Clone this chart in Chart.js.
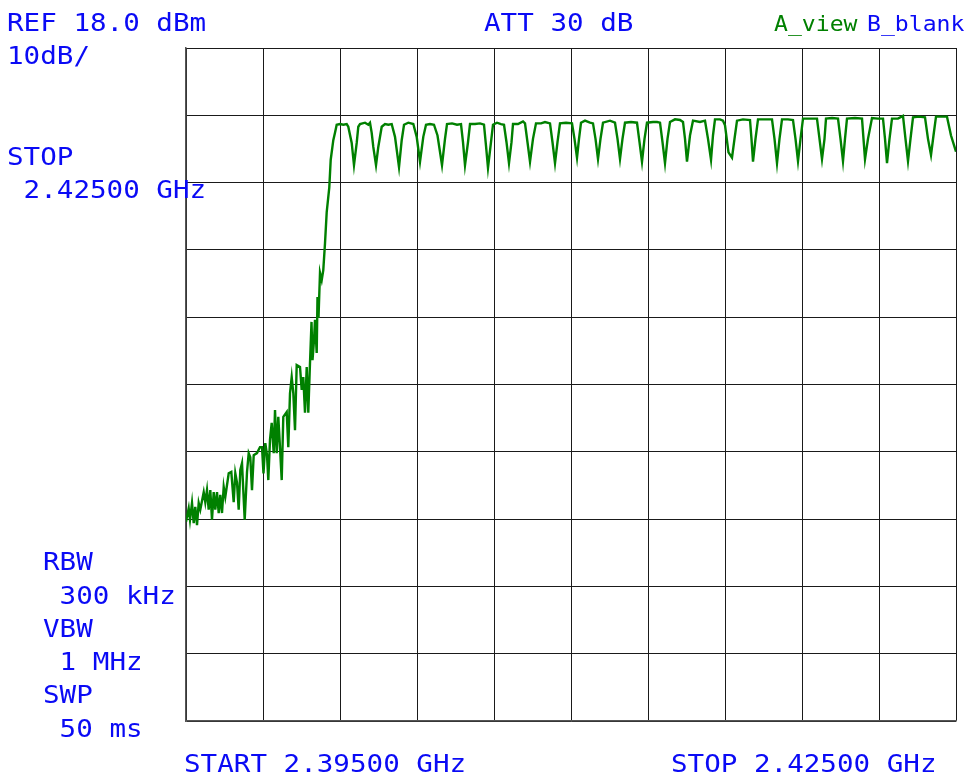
<!DOCTYPE html>
<html>
<head>
<meta charset="utf-8">
<script src="https://cdn.jsdelivr.net/npm/chart.js@4.4.1/dist/chart.umd.min.js"></script>
<style>
  html, body { margin: 0; padding: 0; background: #ffffff; }
  #wrap { width: 971px; height: 779px; }
</style>
</head>
<body>
<div id="wrap"><canvas id="spectrum" width="971" height="779"></canvas></div>
<script>
// ---- Trace A: sweep 2.395 - 2.425 GHz, frequency in MHz, level in dBm ----

// lower skirt and rising edge of the band
const skirtFreq = [
  2395.000, 2395.105, 2395.156, 2395.234, 2395.300, 2395.362, 2395.429, 2395.495,
  2395.557, 2395.690, 2395.752, 2395.818, 2395.884, 2395.947, 2396.013, 2396.079,
  2396.142, 2396.208, 2396.274, 2396.336, 2396.403, 2396.469, 2396.531, 2396.664,
  2396.765, 2396.858, 2396.921, 2396.987, 2397.053, 2397.116, 2397.182, 2397.287,
  2397.377, 2397.443, 2397.505, 2397.571, 2397.638, 2397.766, 2397.883, 2397.961,
  2398.019, 2398.090, 2398.156, 2398.207, 2398.273, 2398.339, 2398.417, 2398.468,
  2398.534, 2398.596, 2398.674, 2398.729, 2398.791, 2398.923, 2398.986, 2399.052,
  2399.118, 2399.181, 2399.247, 2399.313, 2399.442, 2399.508, 2399.570, 2399.636,
  2399.703, 2399.765, 2399.831, 2399.890, 2399.929, 2399.987, 2400.026, 2400.092,
  2400.123, 2400.162, 2400.221, 2400.287, 2400.349, 2400.416, 2400.482, 2400.583,
  2400.638, 2400.739, 2400.805
];
const skirtLevel = [
  -52.4, -50.4, -52.1, -49.6, -52.6, -50.2, -52.9, -49.6,
  -50.6, -48.0, -49.5, -47.7, -50.6, -47.7, -52.1, -48.0,
  -50.6, -48.0, -51.1, -48.4, -51.1, -47.2, -48.7, -45.2,
  -45.0, -49.5, -45.2, -46.6, -50.6, -44.7, -43.7, -52.1,
  -45.0, -42.2, -42.8, -47.7, -42.5, -42.2, -41.3, -41.3,
  -45.2, -40.7, -42.5, -46.2, -40.2, -37.7, -42.2, -35.8,
  -42.2, -36.8, -42.2, -46.2, -36.8, -36.1, -41.3, -33.3,
  -30.9, -33.3, -38.8, -29.1, -29.4, -32.8, -30.9, -36.2,
  -29.4, -36.2, -28.8, -22.7, -28.4, -25.4, -22.4, -27.3,
  -19.0, -22.1, -15.4, -16.5, -15.0, -11.0, -6.4, -2.7,
  1.4, 4.3, 5.4
];

// in-band plateau with its periodic notches
const bandFreq = [
  2400.871, 2401.000, 2401.129, 2401.261, 2401.323, 2401.456, 2401.545, 2401.651,
  2401.713, 2401.779, 2401.974, 2402.103, 2402.169, 2402.235, 2402.297, 2402.403,
  2402.492, 2402.625, 2402.753, 2402.882, 2403.014, 2403.143, 2403.299, 2403.404,
  2403.494, 2403.661, 2403.856, 2403.988, 2404.117, 2404.245, 2404.351, 2404.506,
  2404.662, 2404.799, 2404.974, 2405.091, 2405.169, 2405.364, 2405.558, 2405.714,
  2405.792, 2405.870, 2405.987, 2406.065, 2406.260, 2406.455, 2406.610, 2406.688,
  2406.766, 2406.883, 2406.961, 2407.117, 2407.273, 2407.390, 2407.487, 2407.584,
  2407.682, 2407.740, 2407.935, 2408.130, 2408.208, 2408.305, 2408.403, 2408.519,
  2408.636, 2408.831, 2408.987, 2409.182, 2409.279, 2409.377, 2409.474, 2409.571,
  2409.805, 2410.039, 2410.136, 2410.234, 2410.312, 2410.390, 2410.545, 2410.740,
  2410.857, 2410.955, 2411.052, 2411.149, 2411.247, 2411.519, 2411.714, 2411.812,
  2411.909, 2412.006, 2412.104, 2412.338, 2412.571, 2412.669, 2412.766, 2412.864,
  2412.961, 2413.195, 2413.351, 2413.468, 2413.565, 2413.662, 2413.760, 2413.857,
  2414.052, 2414.247, 2414.364, 2414.442, 2414.519, 2414.636, 2414.753, 2415.026,
  2415.221, 2415.338, 2415.455, 2415.532, 2415.610, 2415.805, 2415.922, 2416.000,
  2416.136, 2416.273, 2416.370, 2416.468, 2416.701, 2416.974, 2417.032, 2417.091,
  2417.188, 2417.286, 2417.558, 2417.831, 2417.929, 2418.026, 2418.123, 2418.221,
  2418.455, 2418.649, 2418.747, 2418.844, 2418.942, 2419.039, 2419.312, 2419.584,
  2419.682, 2419.779, 2419.877, 2419.935, 2420.169, 2420.403, 2420.500, 2420.597,
  2420.675, 2420.753, 2421.065, 2421.338, 2421.396, 2421.455, 2421.571, 2421.727,
  2421.961, 2422.156, 2422.234, 2422.312, 2422.409, 2422.506, 2422.740, 2422.935,
  2423.032, 2423.130, 2423.227, 2423.325, 2423.558, 2423.792, 2423.909, 2424.026,
  2424.123, 2424.221, 2424.455, 2424.649, 2424.805, 2425.000
];
const bandLevel = [
  6.6, 6.7, 6.6, 6.7, 6.3, 3.9, 0.6, 3.9,
  6.3, 6.7, 6.9, 6.6, 6.9, 5.4, 3.3, 0.6,
  3.3, 6.3, 6.7, 6.6, 6.7, 4.8, 0.3, 4.3,
  6.6, 6.9, 6.7, 4.8, 1.1, 4.8, 6.6, 6.7,
  6.6, 5.0, 0.6, 4.5, 6.7, 6.8, 6.6, 6.7,
  4.0, 0.6, 4.0, 6.7, 6.7, 6.8, 6.6, 3.5,
  0.2, 4.0, 6.6, 6.9, 6.7, 6.6, 4.0, 0.9,
  4.0, 6.7, 6.7, 7.1, 6.8, 4.0, 1.1, 4.5,
  6.8, 6.8, 7.0, 6.8, 4.0, 0.9, 4.0, 6.8,
  6.9, 6.8, 4.5, 1.7, 4.5, 6.9, 7.2, 6.9,
  6.8, 4.5, 1.5, 4.5, 6.9, 7.2, 6.9, 4.5,
  1.5, 4.5, 6.9, 7.0, 6.9, 4.0, 1.1, 4.5,
  6.9, 7.0, 7.0, 6.9, 4.0, 0.9, 4.5, 7.0,
  7.4, 7.3, 7.0, 4.5, 1.1, 5.0, 7.2, 7.0,
  7.2, 4.5, 1.4, 5.0, 7.4, 7.4, 7.2, 6.5,
  2.5, 1.7, 4.5, 7.2, 7.4, 7.3, 4.5, 1.1,
  4.5, 7.4, 7.4, 7.4, 4.5, 0.9, 4.5, 7.4,
  7.4, 7.3, 4.5, 1.2, 4.5, 7.5, 7.5, 7.5,
  4.5, 1.5, 4.5, 7.5, 7.6, 7.5, 4.5, 1.2,
  4.5, 7.5, 7.6, 7.5, 4.5, 1.5, 4.5, 7.6,
  7.5, 7.5, 4.5, 0.9, 4.5, 7.5, 7.5, 7.9,
  4.5, 1.2, 4.5, 7.7, 7.8, 7.7, 4.5, 2.1,
  5.0, 7.8, 7.8, 7.8, 5.0, 2.6
];

// graticule: 10 divisions each way
const freqDivisions = [2395, 2398, 2401, 2404, 2407, 2410, 2413, 2416, 2419, 2422, 2425];
const levelDivisions = [-82, -72, -62, -52, -42, -32, -22, -12, -2, 8, 18];

// analyzer annotation texts
const headerTexts = ['REF 18.0 dBm', '10dB/', 'ATT 30 dB'];
const traceTexts = ['A_view', 'B_blank'];
const markerTexts = ['STOP', ' 2.42500 GHz'];
const setupTexts = ['RBW', ' 300 kHz', 'VBW', ' 1 MHz', 'SWP', ' 50 ms'];
const spanTexts = ['START 2.39500 GHz', 'STOP 2.42500 GHz'];

// ---- drawing ----
const traceFreq = skirtFreq.concat(bandFreq);
const traceLevel = skirtLevel.concat(bandLevel);
const tracePoints = traceFreq.map((f, i) => ({ x: f, y: traceLevel[i] }));

const BLUE = '#0a0af5';
const GREEN = '#008000';
const FONT = '"DejaVu Sans Mono", "Liberation Mono", monospace';

function putText(ctx, str, x, y, size, stretch, color) {
  ctx.save();
  ctx.font = size + 'px ' + FONT;
  ctx.fillStyle = color;
  ctx.textBaseline = 'alphabetic';
  ctx.textAlign = 'left';
  ctx.translate(x, y);
  ctx.scale(stretch, 1);
  ctx.fillText(str, 0, 0);
  ctx.restore();
}

const annotationPlugin = {
  id: 'analyzerAnnotations',
  afterDraw(chart) {
    const ctx = chart.ctx;
    const big = 24.5, wide = 1.125;
    putText(ctx, headerTexts[0], 7, 31, big, wide, BLUE);
    putText(ctx, headerTexts[1], 7, 64, big, wide, BLUE);
    putText(ctx, headerTexts[2], 484, 31, big, wide, BLUE);
    putText(ctx, traceTexts[0], 774, 31, 22, 1.05, GREEN);
    putText(ctx, traceTexts[1], 867, 31, 22, 1.05, BLUE);
    putText(ctx, markerTexts[0], 7, 165, big, wide, BLUE);
    putText(ctx, markerTexts[1], 7, 198, big, wide, BLUE);
    const setupY = [570, 604, 637, 670, 703, 737];
    setupTexts.forEach((t, i) => putText(ctx, t, 43, setupY[i], big, wide, BLUE));
    putText(ctx, spanTexts[0], 184, 772, big, wide, BLUE);
    putText(ctx, spanTexts[1], 671, 772, big, wide, BLUE);
  }
};

new Chart(document.getElementById('spectrum'), {
  type: 'line',
  data: {
    datasets: [{
      label: 'A_view',
      data: tracePoints,
      borderColor: GREEN,
      borderWidth: 2.4,
      pointRadius: 0,
      tension: 0,
      fill: false
    }]
  },
  options: {
    responsive: false,
    animation: false,
    devicePixelRatio: 1,
    layout: { padding: { left: 186, top: 48, right: 15, bottom: 58 } },
    plugins: { legend: { display: false }, tooltip: { enabled: false }, title: { display: false } },
    scales: {
      x: {
        type: 'linear',
        min: 2395, max: 2425,
        afterBuildTicks: s => { s.ticks = freqDivisions.map(v => ({ value: v })); },
        ticks: { display: false },
        grid: { color: '#1a1a1a', lineWidth: 1, drawTicks: false },
        border: { display: true, color: '#555', width: 1.5 }
      },
      y: {
        type: 'linear',
        min: -82, max: 18,
        afterBuildTicks: s => { s.ticks = levelDivisions.map(v => ({ value: v })); },
        ticks: { display: false },
        grid: { color: '#1a1a1a', lineWidth: 1, drawTicks: false },
        border: { display: true, color: '#555', width: 1.5 }
      }
    }
  },
  plugins: [annotationPlugin]
});
</script>
</body>
</html>
